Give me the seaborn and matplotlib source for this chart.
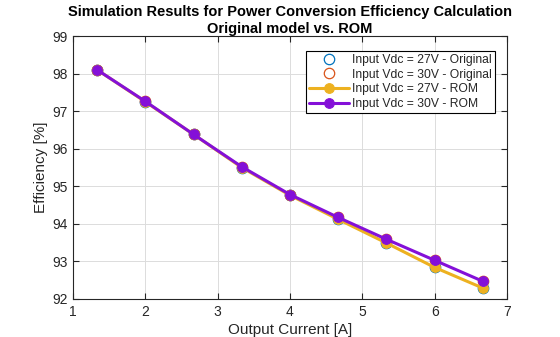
import matplotlib
matplotlib.use("Agg")
import matplotlib.pyplot as plt
import seaborn as sns
import pandas as pd

current = [1.333, 2.0, 2.667, 3.333, 4.0, 4.667, 5.333, 6.0, 6.667]
eff_27_orig = [98.10, 97.25, 96.38, 95.50, 94.76, 94.12, 93.49, 92.84, 92.29]
eff_30_orig = [98.10, 97.26, 96.38, 95.52, 94.78, 94.17, 93.59, 93.03, 92.47]
eff_27_rom = [98.10, 97.25, 96.38, 95.50, 94.76, 94.12, 93.49, 92.84, 92.29]
eff_30_rom = [98.10, 97.26, 96.38, 95.52, 94.78, 94.17, 93.59, 93.03, 92.47]

labels = ["Input Vdc = 27V - Original", "Input Vdc = 30V - Original",
          "Input Vdc = 27V - ROM", "Input Vdc = 30V - ROM"]
title = "Simulation Results for Power Conversion Efficiency Calculation\nOriginal model vs. ROM"
xlabel = "Output Current [A]"
ylabel = "Efficiency [%]"

sns.set_theme(style="whitegrid")
plt.rcParams['font.family'] = ['Liberation Sans', 'DejaVu Sans']

fig = plt.figure(figsize=(5.6, 3.37), dpi=100)
ax = fig.add_axes([73/560, 1 - 299/337, (507-73)/560, (299-36)/337])

df_o27 = pd.DataFrame({"x": current, "y": eff_27_orig})
df_o30 = pd.DataFrame({"x": current, "y": eff_30_orig})
df_r27 = pd.DataFrame({"x": current, "y": eff_27_rom})
df_r30 = pd.DataFrame({"x": current, "y": eff_30_rom})

sns.lineplot(data=df_o27, x="x", y="y", ax=ax, linestyle="none", marker="o",
             markersize=7.5, markerfacecolor="none", markeredgecolor="#0072BD",
             markeredgewidth=0.9, color="#0072BD", label=labels[0])
sns.lineplot(data=df_o30, x="x", y="y", ax=ax, linestyle="none", marker="o",
             markersize=7.5, markerfacecolor="none", markeredgecolor="#D95319",
             markeredgewidth=0.9, color="#D95319", label=labels[1])
sns.lineplot(data=df_r27, x="x", y="y", ax=ax, color="#EDB120", linewidth=2.2,
             marker="o", markersize=7, markerfacecolor="#EDB120",
             markeredgecolor="#EDB120", label=labels[2])
sns.lineplot(data=df_r30, x="x", y="y", ax=ax, color="#8410D8", linewidth=2.2,
             marker="o", markersize=7, markerfacecolor="#8410D8",
             markeredgecolor="#8410D8", label=labels[3])

ax.set_xlim(1, 7)
ax.set_ylim(92, 99)
ax.set_xticks(range(1, 8))
ax.set_yticks(range(92, 100))
ax.set_facecolor("white")
ax.grid(True, color="#dcdcdc", linewidth=0.7)
for s in ax.spines.values():
    s.set_visible(True)
    s.set_color("#262626")
    s.set_linewidth(0.8)
ax.tick_params(axis="both", direction="in", length=4, width=0.8, colors="#262626",
               labelsize=10, labelcolor="#262626", bottom=True, left=True, top=True, right=True,
               labeltop=False, labelright=False, pad=4)
ax.set_xlabel(xlabel, fontsize=11, color="#262626", labelpad=3)
ax.set_ylabel(ylabel, fontsize=11, color="#262626", labelpad=2.5)
ax.set_title(title, fontsize=10.5, fontweight="bold", color="black", pad=2, linespacing=1.25)

leg = ax.legend(loc="upper right", bbox_to_anchor=((495-73)/434, (299-51)/263),
                fontsize=8.7, frameon=True, fancybox=False,
                edgecolor="black", framealpha=1, borderpad=0.25, labelspacing=0.22,
                handlelength=3.3, handletextpad=0.3, borderaxespad=0.0)
leg.get_frame().set_linewidth(0.8)

fig.savefig("out.png", dpi=100, facecolor="white")
